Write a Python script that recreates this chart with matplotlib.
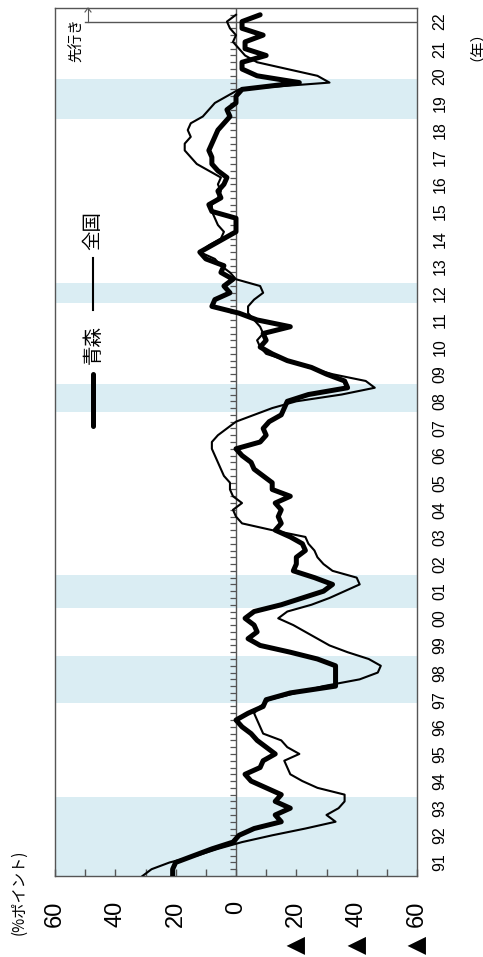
import numpy as np
import matplotlib
matplotlib.use("Agg")
import matplotlib.pyplot as plt
from matplotlib.lines import Line2D

# ---------------- data (quarterly, 1991Q1 .. 2022Q4, last = forecast) ----------------
start_year = 1991
aomori = [21, 21, 20, 14, 8, 1, -1, -6, -15, -13, -18, -13, -15, -10, -5, -3,
          -8, -9, -13, -10, -7, -5, -2, 0, -4, -9, -10, -18, -33, -33, -33, -33,
          -27, -18, -8, -4, -7, -6, -3, -6, -15, -22, -29, -32, -26, -19, -20, -20,
          -23, -22, -18, -13, -15, -14, -15, -13, -18, -12, -12, -9, -6, -5, -2, 0,
          -8, -10, -9, -11, -15, -16, -17, -24, -37, -36, -30, -25, -17, -12, -8, -10,
          -9, -18, -7, -1, 8, 7, 2, 4, 1, 5, 4, 10, 12, 8, 4, 0,
          0, 0, 8, 9, 5, 6, 4, 3, 6, 8, 8, 9, 8, 7, 6, 4,
          2, 3, 0, 0, -2, -21, -7, -2, -2, -10, -3, -3, -9, -2, -2, -8]
zenkoku = [31, 28, 22, 13, 6, -2, -12, -23, -33, -30, -34, -36, -36, -27, -22, -18,
           -17, -16, -21, -17, -15, -9, -8, -7, -6, -8, -11, -20, -29, -41, -47, -48,
           -44, -37, -31, -27, -23, -19, -14, -17, -25, -31, -36, -41, -40, -32, -29, -27,
           -26, -24, -23, -12, -2, 0, 1, -2, 1, 2, 2, 4, 5, 6, 7, 8,
           8, 6, 3, 0, -6, -12, -20, -35, -46, -43, -32, -24, -17, -10, -8, -7,
           -9, -8, -6, -4, -4, -6, -9, -8, 0, 2, 5, 7, 12, 9, 5, 4,
           6, 7, 8, 8, 6, 5, 6, 5, 9, 13, 15, 17, 17, 15, 16, 15,
           11, 9, 7, 3, -1, -31, -27, -17, -7, -3, -1, 1, 0, 2, 3, 0]
recessions = [(1991.0, 1993.9), (1997.38, 1999.12), (2000.89, 2002.1),
              (2008.12, 2009.15), (2012.14, 2012.88), (2018.9, 2020.4)]
forecast_start = 2022.5
year_labels = ["91", "92", "93", "94", "95", "96", "97", "98", "99", "00",
               "01", "02", "03", "04", "05", "06", "07", "08", "09", "10",
               "11", "12", "13", "14", "15", "16", "17", "18", "19", "20",
               "21", "22"]
value_ticks = [60, 40, 20, 0, -20, -40, -60]
value_labels = ["60", "40", "20", "0", "20", "40", "60"]
neg_mark = "▲"
legend_labels = ["青森", "全国"]

t = start_year + np.arange(len(aomori)) / 4.0

W, H = 483, 957
fig = plt.figure(figsize=(W / 100, H / 100), dpi=100)
L, R, T, B = 55, 417, 8, 876
ax = fig.add_axes([L / W, 1 - B / H, (R - L) / W, (B - T) / H])
ax.set_xlim(60, -60)
ax.set_ylim(1991, 2023)

shade = "#daedf3"
for s, e in recessions:
    ax.axhspan(s, e, color=shade, lw=0, zorder=0)

edge = "#555555"
ax.axvline(0, color=edge, lw=1.0, zorder=1)
qt = start_year + np.arange(len(aomori) + 4) / 4.0
ax.hlines(qt, 0, 1.9, color=edge, lw=0.9, zorder=1)
ax.axhline(forecast_start, xmin=(85 - L) / (R - L), xmax=1.0, color=edge, lw=1.0, zorder=1)

ax.plot(zenkoku, t, color="black", lw=1.5, zorder=3, solid_joinstyle="round")
ax.plot(aomori, t, color="black", lw=3.6, zorder=4, solid_joinstyle="round",
        solid_capstyle="round")

for sp in ax.spines.values():
    sp.set_color(edge)
    sp.set_linewidth(1.0)

num_font = ["Liberation Sans", "DejaVu Sans"]
ax.set_xticks(value_ticks)
ax.set_xticks(np.arange(-50, 60, 20), minor=True)
ax.tick_params(axis="x", which="both", direction="in", length=5, color=edge, width=1.0)
ax.tick_params(axis="x", which="major", pad=18)
ax.set_xticklabels(value_labels, rotation=90, va="top", ha="center",
                   fontsize=17, family=num_font)
ax.set_yticks([])

# negative-value markers (rotated triangles below the numbers)
for v in value_ticks:
    if v < 0:
        xf = ax.transData.transform((v, 1991))[0] / fig.dpi / fig.get_figwidth()
        fig.text(xf, 1 - 945 / H, neg_mark, rotation=90, ha="center", va="center",
                 fontsize=17, family=["DejaVu Sans"])

for i, lab in enumerate(year_labels):
    ax.text(1.0 + (440 - R) / (R - L), (i + 0.5) / 32.0, lab, transform=ax.transAxes,
            rotation=90, ha="center", va="center", fontsize=11.5, family=num_font)

cjk = ["Noto Sans CJK JP", "DejaVu Sans"]
fig.text(19 / W, 1 - 892 / H, "(%ポイント)", rotation=90, ha="center", va="center",
         fontsize=11, family=cjk)
fig.text(468 / W, 1 - 38 / H, "（年）", rotation=90, ha="center", va="center",
         fontsize=11, family=cjk)
fig.text(77 / W, 1 - 40 / H, "先行き", rotation=90, ha="center", va="center",
         fontsize=10.5, family=cjk)
fig.add_artist(Line2D([88 / W, 88 / W], [1 - 22 / H, 1 - 8 / H], color=edge, lw=0.8))
fig.add_artist(Line2D([85 / W, 88 / W, 91 / W], [1 - 12 / H, 1 - 8 / H, 1 - 12 / H],
                      color=edge, lw=0.8))

fig.add_artist(Line2D([93 / W, 93 / W], [1 - 426 / H, 1 - 374 / H], color="black", lw=3.6,
                      solid_capstyle="round"))
fig.text(93 / W, 1 - 344 / H, legend_labels[0], rotation=90, ha="center", va="center",
         fontsize=14, family=cjk)
fig.add_artist(Line2D([93 / W, 93 / W], [1 - 310 / H, 1 - 258 / H], color="black", lw=1.5))
fig.text(93 / W, 1 - 231 / H, legend_labels[1], rotation=90, ha="center", va="center",
         fontsize=14, family=cjk)

fig.savefig("out.png", dpi=100)
